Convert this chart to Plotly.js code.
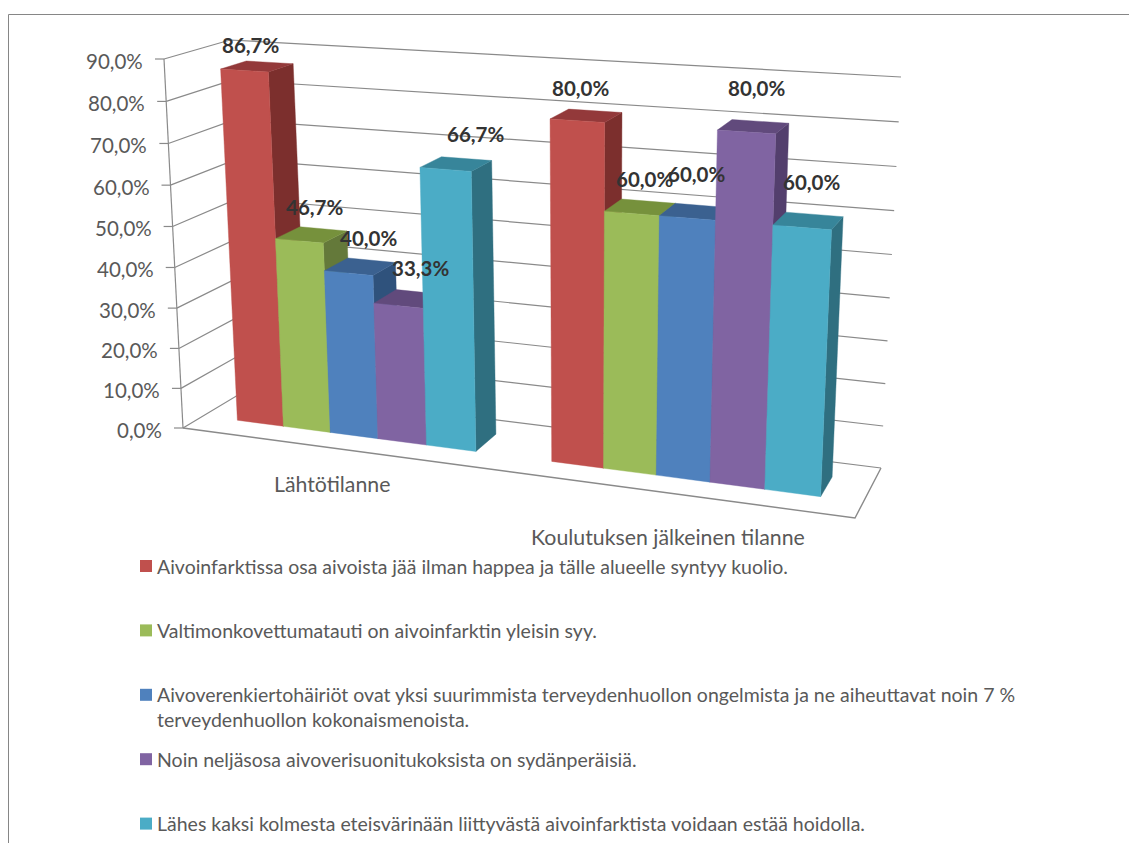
<!DOCTYPE html>
<html>
<head>
<meta charset="utf-8">
<title>Aivoinfarkti-väittämät</title>
<script src="https://cdn.plot.ly/plotly-3.0.1.min.js"></script>
<style>html,body{margin:0;padding:0;background:#fff;overflow:hidden}#chart{width:1129px;height:843px}</style>
</head>
<body>
<div id="chart"></div>
<script>
// Chart values
const categories = ['Lähtötilanne', 'Koulutuksen jälkeinen tilanne'];
const seriesNames = [
  'Aivoinfarktissa osa aivoista jää ilman happea ja tälle alueelle syntyy kuolio.',
  'Valtimonkovettumatauti on aivoinfarktin yleisin syy.',
  'Aivoverenkiertohäiriöt ovat yksi suurimmista terveydenhuollon ongelmista ja ne aiheuttavat noin 7 %<br>terveydenhuollon kokonaismenoista.',
  'Noin neljäsosa aivoverisuonitukoksista on sydänperäisiä.',
  'Lähes kaksi kolmesta eteisvärinään liittyvästä aivoinfarktista voidaan estää hoidolla.'
];
const infarctValues = [86.7, 80.0];
const atheroscleroValues = [46.7, 60.0];
const costValues = [40.0, 60.0];
const cardiacValues = [33.3, 80.0];
const fibrillationValues = [66.7, 60.0];
const tickValues = [0, 10, 20, 30, 40, 50, 60, 70, 80, 90];
const seriesValues = [infarctValues, atheroscleroValues, costValues, cardiacValues, fibrillationValues];

// Face colours per series
const frontColors = ['#C0504D', '#9BBB59', '#4F81BD', '#8064A2', '#4BACC6'];
const sideColors  = ['#7C2F2D', '#64793A', '#2F527C', '#533F6D', '#2F6F80'];
const topColors   = ['#93393A', '#76913C', '#3B6190', '#614A7C', '#37859A'];

// Perspective frame of the 3-D plot box, in plot units
const floorQuad = [[183, 428], [855, 518], [881, 468], [248, 389]];
const roofQuad  = [[164, 59], [875, 101.7], [901, 77], [230, 40]];
const valueMax = 90, heightWarp = 1.039;
const gapWidth = 1.5, depthFront = 0.3, depthBack = 0.7;

function homography(q) {
  const [[x0, y0], [x1, y1], [x2, y2], [x3, y3]] = q;
  const dx1 = x1 - x2, dx2 = x3 - x2, sx = x0 - x1 + x2 - x3;
  const dy1 = y1 - y2, dy2 = y3 - y2, sy = y0 - y1 + y2 - y3;
  const den = dx1 * dy2 - dx2 * dy1;
  const g = (sx * dy2 - dx2 * sy) / den, h = (dx1 * sy - sx * dy1) / den;
  const a = x1 - x0 + g * x1, b = x3 - x0 + h * x3;
  const d = y1 - y0 + g * y1, e = y3 - y0 + h * y3;
  return (u, w) => {
    const k = g * u + h * w + 1;
    return [(a * u + b * w + x0) / k, (d * u + e * w + y0) / k];
  };
}
const floorAt = homography(floorQuad), roofAt = homography(roofQuad);

// Projects (position along categories, depth, value) on to the plot plane
function project(u, w, value) {
  const t = value / valueMax;
  const s = t / (t + heightWarp * (1 - t));
  const f = floorAt(u, w), r = roofAt(u, w);
  return [f[0] + (r[0] - f[0]) * s, f[1] + (r[1] - f[1]) * s];
}

const traces = [];
function polyline(points, color, width) {
  traces.push({
    type: 'scatter', mode: 'lines', hoverinfo: 'skip', showlegend: false,
    x: points.map(p => p ? p[0] : null), y: points.map(p => p ? p[1] : null),
    line: {color: color, width: width}
  });
}
function face(points, color, name) {
  const loop = points.concat([points[0]]);
  traces.push({
    type: 'scatter', mode: 'lines', fill: 'toself', fillcolor: color, name: name,
    hoverinfo: 'skip', showlegend: false,
    x: loop.map(p => p[0]), y: loop.map(p => p[1]),
    line: {color: color, width: 0.4}
  });
}

// Walls: value gridlines run along the side wall and then the back wall
const gridColor = '#8A8A8A';
tickValues.forEach(v => {
  polyline([project(0, 0, v), project(0, 1, v), project(1, 1, v)], gridColor, 1.2);
  const p = project(0, 0, v);
  polyline([[p[0] - 9, p[1]], p], gridColor, 1.2);
});
polyline([project(0, 0, 0), project(0, 0, valueMax)], gridColor, 1.2);
polyline([project(0, 0, 0), project(1, 0, 0), project(1, 1, 0)], gridColor, 1.4);

// Bars, painted left to right so each one covers its neighbour's side face
const seriesCount = seriesNames.length;
const units = categories.length * (seriesCount + gapWidth);
categories.forEach((cat, c) => {
  seriesNames.forEach((name, s) => {
    const value = seriesValues[s][c];
    const u0 = (c * (seriesCount + gapWidth) + gapWidth / 2 + s) / units;
    const u1 = u0 + 1 / units;
    const lf = project(u0, depthFront, 0), rf = project(u1, depthFront, 0);
    const lF = project(u0, depthFront, value), rF = project(u1, depthFront, value);
    const rb = project(u1, depthBack, 0), rB = project(u1, depthBack, value);
    const lB = project(u0, depthBack, value);
    face([rf, rb, rB, rF], sideColors[s], name);
    face([lF, rF, rB, lB], topColors[s], name);
    face([lf, rf, rF, lF], frontColors[s], name);
  });
});

// Text
const fontFamily = 'Lato, Carlito, "Open Sans", sans-serif';
const annotations = [];
function label(x, y, text, size, color, anchor, bold) {
  annotations.push({
    x: x, y: y, xref: 'x', yref: 'y', text: bold ? '<b>' + text + '</b>' : text,
    showarrow: false, xanchor: anchor, yanchor: 'middle',
    borderpad: 0, borderwidth: 0,
    font: {family: fontFamily, size: size, color: color}
  });
}
const decimal = v => v.toFixed(1).replace('.', ',') + '%';

tickValues.forEach(v => {
  const p = project(0, 0, v);
  label(p[0] - 21, p[1] + 2, decimal(v), 20.5, '#595959', 'right');
});

// Value label placement relative to each bar's top edge centre
const labelShiftX = [[6, 3], [15, 13], [20, 9], [22, 10], [30, 9]];
const labelShiftY = [[-25, -33], [-34, -34], [-35, -44], [-38, -44], [-35, -45]];
categories.forEach((cat, c) => {
  seriesNames.forEach((name, s) => {
    const value = seriesValues[s][c];
    const um = (c * (seriesCount + gapWidth) + gapWidth / 2 + s + 0.5) / units;
    const p = project(um, depthFront, value);
    label(p[0] + labelShiftX[s][c], p[1] + labelShiftY[s][c], decimal(value), 20.5, '#333333', 'center', true);
  });
});

// Category names below the floor's front edge
const catShiftX = [-4, -3], catShiftY = [35, 44];
categories.forEach((cat, c) => {
  const p = project((c + 0.5) / categories.length, 0, 0);
  label(p[0] + catShiftX[c], p[1] + catShiftY[c], cat, 21.3, '#595959', 'center');
});

// Key: one swatch and one text block per series, stacked under the plot
const keyX = 146, keyTextX = 157, keyTop = 566, keyStep = 64.4, keyLine = 25;
seriesNames.forEach((name, s) => {
  const y = keyTop + keyStep * s;
  traces.push({
    type: 'scatter', mode: 'markers', hoverinfo: 'skip', showlegend: false,
    x: [keyX], y: [y],
    marker: {symbol: 'square', size: 12, color: frontColors[s], line: {width: 0}}
  });
  name.split('<br>').forEach((line, i) => {
    label(keyTextX, y + i * keyLine, line, 19.5, '#595959', 'left');
  });
});

const layout = {
  width: 1129, height: 843, autosize: false,
  margin: {l: 0, r: 0, t: 0, b: 0, pad: 0},
  paper_bgcolor: '#ffffff', plot_bgcolor: '#ffffff',
  showlegend: false, hovermode: false,
  xaxis: {range: [0, 1129], visible: false, fixedrange: true},
  yaxis: {range: [843, 0], visible: false, fixedrange: true},
  annotations: annotations,
  shapes: [
    {type: 'line', xref: 'x', yref: 'y', x0: 8.5, x1: 1129, y0: 14.5, y1: 14.5, line: {color: '#868686', width: 1}},
    {type: 'line', xref: 'x', yref: 'y', x0: 8.5, x1: 8.5, y0: 14.5, y1: 843, line: {color: '#868686', width: 1}}
  ]
};
Plotly.newPlot('chart', traces, layout, {staticPlot: true, displayModeBar: false});
</script>
</body>
</html>
